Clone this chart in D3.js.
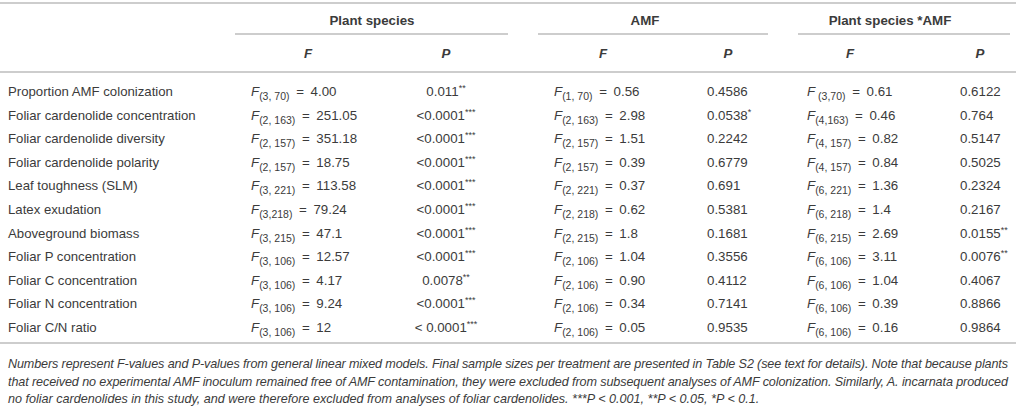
<!DOCTYPE html>
<html>
<head>
<meta charset="UTF-8">
<title>GLMM results table</title>
<script src="https://d3js.org/d3.v7.min.js"></script>
<style>
  body { margin: 0; background: #fff; }
  svg text { font-family: "Liberation Sans", Arial, sans-serif; fill: #3b3b3b; }
</style>
</head>
<body>
<script>
var w = 1016, h = 412;

// table data
var responses = ["Proportion AMF colonization", "Foliar cardenolide concentration", "Foliar cardenolide diversity",
  "Foliar cardenolide polarity", "Leaf toughness (SLM)", "Latex exudation", "Aboveground biomass",
  "Foliar P concentration", "Foliar C concentration", "Foliar N concentration", "Foliar C/N ratio"];

var groups = ["Plant species", "AMF", "Plant species *AMF"];

var plantDf = ["(3, 70)", "(2, 163)", "(2, 157)", "(2, 157)", "(3, 221)", "(3,218)", "(3, 215)", "(3, 106)", "(3, 106)", "(3, 106)", "(3, 106)"];
var plantF = ["4.00", "251.05", "351.18", "18.75", "113.58", "79.24", "47.1", "12.57", "4.17", "9.24", "12"];
var plantP = ["0.011**", "<0.0001***", "<0.0001***", "<0.0001***", "<0.0001***", "<0.0001***", "<0.0001***", "<0.0001***", "0.0078**", "<0.0001***", "< 0.0001***"];

var amfDf = ["(1, 70)", "(2, 163)", "(2, 157)", "(2, 157)", "(2, 221)", "(2, 218)", "(2, 215)", "(2, 106)", "(2, 106)", "(2, 106)", "(2, 106)"];
var amfF = ["0.56", "2.98", "1.51", "0.39", "0.37", "0.62", "1.8", "1.04", "0.90", "0.34", "0.05"];
var amfP = ["0.4586", "0.0538*", "0.2242", "0.6779", "0.691", "0.5381", "0.1681", "0.3556", "0.4112", "0.7141", "0.9535"];

var intDf = [" (3,70)", "(4,163)", "(4, 157)", "(4, 157)", "(6, 221)", "(6, 218)", "(6, 215)", "(6, 106)", "(6, 106)", "(6, 106)", "(6, 106)"];
var intF = ["0.61", "0.46", "0.82", "0.84", "1.36", "1.4", "2.69", "3.11", "1.04", "0.39", "0.16"];
var intP = ["0.6122", "0.764", "0.5147", "0.5025", "0.2324", "0.2167", "0.0155**", "0.0076**", "0.4067", "0.8866", "0.9864"];

var footnote = [
  "Numbers represent F-values and P-values from general linear mixed models. Final sample sizes per treatment are presented in Table S2 (see text for details). Note that because plants",
  "that received no experimental AMF inoculum remained free of AMF contamination, they were excluded from subsequent analyses of AMF colonization. Similarly, A. incarnata produced",
  "no foliar cardenolides in this study, and were therefore excluded from analyses of foliar cardenolides. ***P < 0.001, **P < 0.05, *P < 0.1."
];

var svg = d3.select("body").append("svg")
  .attr("width", w).attr("height", h);

// scales
var yRow = d3.scalePoint().domain(responses).range([96, 332]);
var groupX = d3.scaleOrdinal().domain(groups).range([372, 645, 890]);
var groupSpan = d3.scaleOrdinal().domain(groups).range([[235, 508], [538, 768], [798, 1010]]);
var fLeft = d3.scaleOrdinal().domain(groups).range([251, 554, 807]);
var fHead = d3.scaleOrdinal().domain(groups).range([308, 603, 850]);
var pHead = d3.scaleOrdinal().domain(groups).range([446, 728, 980]);
var pAnchor = d3.scaleOrdinal().domain(groups).range(["middle", "start", "start"]);
var pX = d3.scaleOrdinal().domain(groups).range([446, 707, 960]);
var yFoot = d3.scalePoint().domain(d3.range(footnote.length)).range([368, 403]);

var lineColor = "#bdbdbd";

// rules
svg.selectAll("line.rule")
  .data([3, 72, 343])
  .enter().append("line")
  .attr("class", "rule")
  .attr("x1", 0).attr("x2", w)
  .attr("y1", function(d) { return d; }).attr("y2", function(d) { return d; })
  .attr("stroke", lineColor).attr("stroke-width", 1.5);

svg.selectAll("line.grp")
  .data(groups)
  .enter().append("line")
  .attr("class", "grp")
  .attr("x1", function(d) { return groupSpan(d)[0]; })
  .attr("x2", function(d) { return groupSpan(d)[1]; })
  .attr("y1", 34).attr("y2", 34)
  .attr("stroke", lineColor).attr("stroke-width", 1.5);

// header
svg.selectAll("text.grp")
  .data(groups)
  .enter().append("text")
  .attr("class", "grp")
  .attr("x", function(d) { return groupX(d); })
  .attr("y", 25)
  .attr("text-anchor", "middle")
  .attr("font-size", 13.3).attr("font-weight", "bold")
  .text(function(d) { return d; });

groups.forEach(function(g) {
  svg.append("text").attr("x", fHead(g)).attr("y", 58)
    .attr("text-anchor", "middle").attr("font-size", 13.3)
    .attr("font-weight", "bold").attr("font-style", "italic").text("F");
  svg.append("text").attr("x", pHead(g)).attr("y", 58)
    .attr("text-anchor", "middle").attr("font-size", 13.3)
    .attr("font-weight", "bold").attr("font-style", "italic").text("P");
});

// row labels
svg.selectAll("text.lab")
  .data(responses)
  .enter().append("text")
  .attr("class", "lab")
  .attr("x", 8)
  .attr("y", function(d) { return yRow(d); })
  .attr("font-size", 13.2)
  .text(function(d) { return d; });

// F cells: italic F, subscript df, "= value"
function fCells(g, dfs, vals) {
  var t = svg.selectAll(null)
    .data(responses)
    .enter().append("text")
    .attr("x", fLeft(g))
    .attr("y", function(d) { return yRow(d); })
    .attr("font-size", 13.3);
  t.append("tspan").attr("font-style", "italic").text("F");
  t.append("tspan").attr("font-size", 10.5).attr("dy", 4)
    .text(function(d, i) { return dfs[i]; });
  t.append("tspan").attr("dy", -4)
    .text(function(d, i) { return "\u2002=\u2002" + vals[i]; });
}

// P cells: value with superscript stars
function pCells(g, vals) {
  var t = svg.selectAll(null)
    .data(responses)
    .enter().append("text")
    .attr("x", pX(g))
    .attr("y", function(d) { return yRow(d); })
    .attr("text-anchor", pAnchor(g))
    .attr("font-size", 13.3);
  t.append("tspan").text(function(d, i) {
    var v = vals[i].replace(/\*+$/, "");
    return v.replace(/^<\s?/, function(m) { return m.length > 1 ? "< " : "<"; });
  });
  t.append("tspan").attr("font-size", 9).attr("dy", -5)
    .text(function(d, i) { var m = vals[i].match(/\*+$/); return m ? m[0] : ""; });
}

fCells(groups[0], plantDf, plantF);
pCells(groups[0], plantP);
fCells(groups[1], amfDf, amfF);
pCells(groups[1], amfP);
fCells(groups[2], intDf, intF);
pCells(groups[2], intP);

// footnote
svg.selectAll("text.foot")
  .data(footnote)
  .enter().append("text")
  .attr("class", "foot")
  .attr("x", 8)
  .attr("y", function(d, i) { return yFoot(i); })
  .attr("font-size", 12.6).attr("font-style", "italic")
  .attr("textLength", function(d, i) { return i < 2 ? 1000 : null; })
  .attr("lengthAdjust", "spacing")
  .text(function(d) { return d; });
</script>
</body>
</html>
